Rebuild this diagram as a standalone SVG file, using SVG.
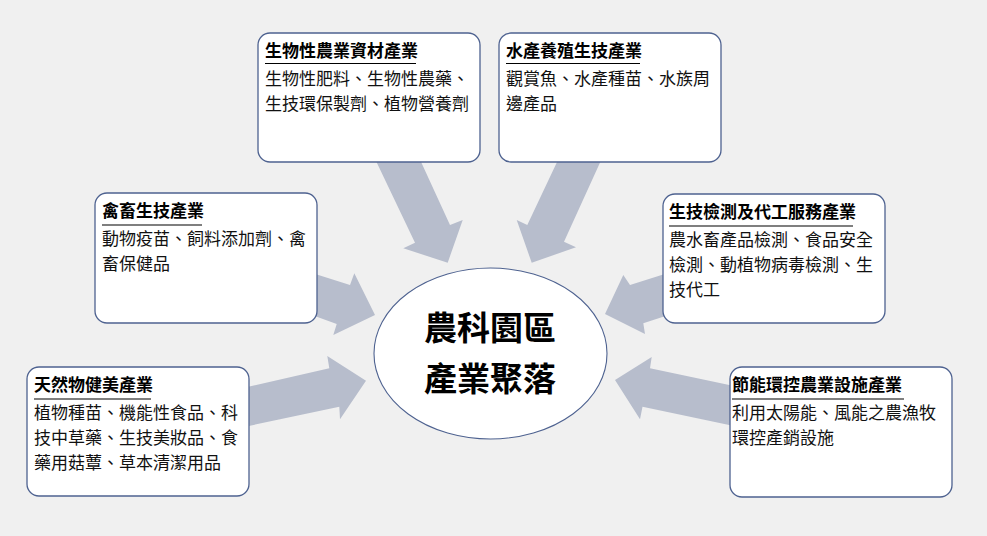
<svg xmlns="http://www.w3.org/2000/svg" width="987" height="536" viewBox="0 0 987 536">
<style>
.bg{fill:#f0f0f0}
.arrow{fill:#b7bdcc;stroke:none}
.box{fill:#ffffff;stroke:#4e6290;stroke-width:1.3}
.hub{fill:#ffffff;stroke:#4e6290;stroke-width:1.1}
.t{font-family:"Noto Sans CJK TC","Noto Sans CJK SC",sans-serif;font-size:17px;fill:#111}
.title{font-weight:bold;fill:#000}
.ul{stroke:#000;stroke-width:1.2}
.center{font-family:"Noto Sans CJK TC","Noto Sans CJK SC",sans-serif;font-size:33px;font-weight:bold;fill:#000;text-anchor:middle}
</style>
<rect class="bg" x="0" y="0" width="987" height="536"/>
<g id="connectors">
<polygon class="arrow" points="366,140 411,140 450,225 462.7,220 447.7,262.7 403.3,248.3 415,242.7"/>
<polygon class="arrow" points="567.4,140 610.3,140 564,241.7 576,247.3 531.7,262.7 516.7,220 527.3,225"/>
<polygon class="arrow" points="290,266 350,285 354.3,273.3 375,315 333.3,335 336.7,324 290,307"/>
<polygon class="arrow" points="225,392 329.3,368.3 327.3,356 366,380.7 340,419.3 339.3,406.7 225,431"/>
<polygon class="arrow" points="690,266 630,285 623.3,275 605,314 645,334 643.3,323.3 690,308"/>
<polygon class="arrow" points="760,391.4 650,368.3 651.7,357 615,380 640,419.3 642.5,406.7 760,431.4"/>
</g>
<g id="hub">
<ellipse class="hub" cx="490.5" cy="353.5" rx="116.5" ry="85.5"/>
<text class="center" x="490" y="340">農科園區</text>
<text class="center" x="490" y="391">產業聚落</text>
</g>
<g id="box1">
<rect class="box" x="258" y="33" width="222" height="129" rx="12"/>
<text class="t title" x="265" y="57">生物性農業資材產業</text>
<line class="ul" x1="265" y1="63.5" x2="416" y2="63.5"/>
<text class="t" x="265" y="85">生物性肥料、生物性農藥、</text>
<text class="t" x="265" y="110">生技環保製劑、植物營養劑</text>
</g>
<g id="box2">
<rect class="box" x="499" y="33" width="222" height="129" rx="12"/>
<text class="t title" x="506" y="57">水產養殖生技產業</text>
<line class="ul" x1="506" y1="63.5" x2="640" y2="63.5"/>
<text class="t" x="506" y="85">觀賞魚、水產種苗、水族周</text>
<text class="t" x="506" y="110">邊產品</text>
</g>
<g id="box3">
<rect class="box" x="95" y="193" width="222" height="130" rx="12"/>
<text class="t title" x="102" y="217">禽畜生技產業</text>
<line class="ul" x1="102" y1="225" x2="202" y2="225"/>
<text class="t" x="102" y="245">動物疫苗、飼料添加劑、禽</text>
<text class="t" x="102" y="270">畜保健品</text>
</g>
<g id="box4">
<rect class="box" x="663" y="194" width="222" height="129" rx="12"/>
<text class="t title" x="669" y="218">生技檢測及代工服務產業</text>
<line class="ul" x1="669" y1="226" x2="853" y2="226"/>
<text class="t" x="669" y="246">農水畜產品檢測、食品安全</text>
<text class="t" x="669" y="271">檢測、動植物病毒檢測、生</text>
<text class="t" x="669" y="296">技代工</text>
</g>
<g id="box5">
<rect class="box" x="27" y="367" width="222" height="129" rx="12"/>
<text class="t title" x="34" y="391">天然物健美產業</text>
<line class="ul" x1="34" y1="399" x2="151" y2="399"/>
<text class="t" x="34" y="419">植物種苗、機能性食品、科</text>
<text class="t" x="34" y="444">技中草藥、生技美妝品、食</text>
<text class="t" x="34" y="469">藥用菇蕈、草本清潔用品</text>
</g>
<g id="box6">
<rect class="box" x="730" y="367" width="222" height="130" rx="12"/>
<text class="t title" x="732" y="391">節能環控農業設施產業</text>
<line class="ul" x1="732" y1="399" x2="904" y2="399"/>
<text class="t" x="732" y="419">利用太陽能、風能之農漁牧</text>
<text class="t" x="732" y="444">環控產銷設施</text>
</g>
</svg>
